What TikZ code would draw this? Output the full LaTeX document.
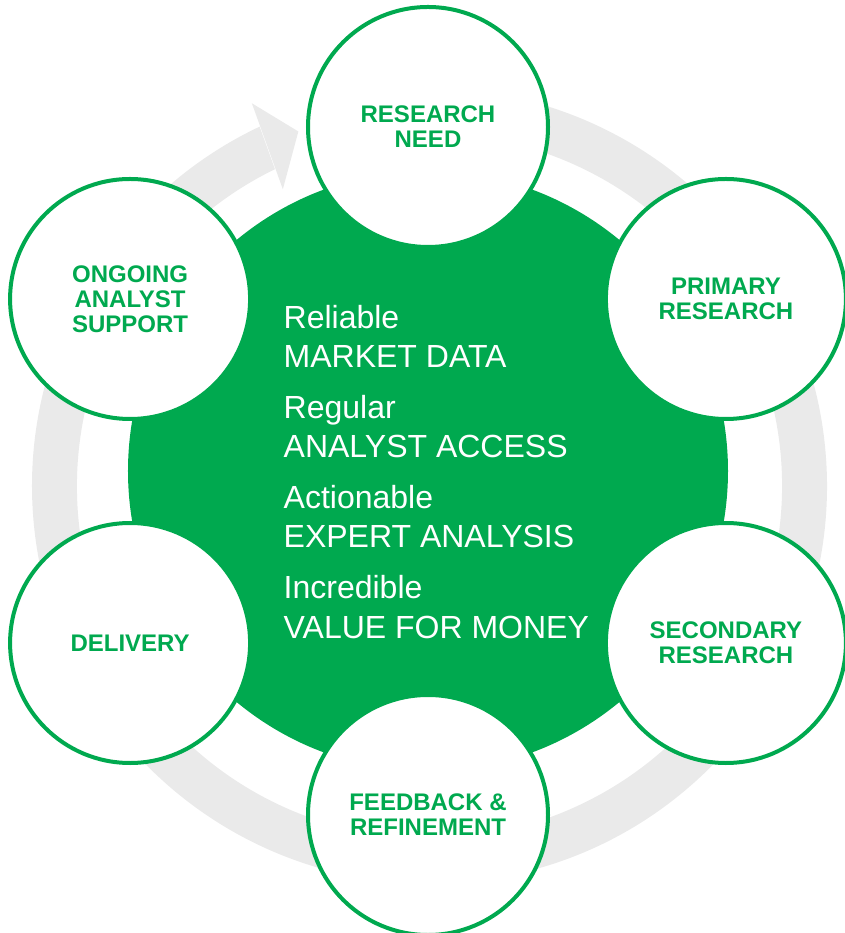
\documentclass[tikz,border=0pt]{standalone}
\usepackage{fontspec}
\setmainfont{Liberation Sans}
\definecolor{brandgreen}{HTML}{00A94F}
\definecolor{ringgray}{HTML}{EAEAEA}
\tikzset{
  stage/.style={circle, draw=brandgreen, line width=4, fill=white,
    minimum size=240, inner sep=0, align=center, text=brandgreen,
    font=\fontsize{24}{25}\selectfont\bfseries},
  lead/.style={anchor=base west, inner sep=0, text=white,
    font=\fontsize{32}{36}\selectfont}
}
\begin{document}
\begin{tikzpicture}[x=1pt, y=1pt]
  \useasboundingbox (-428,-462) rectangle (416,471);
  % circular arrow running clockwise behind the stages
  \begin{scope}[shift={(1.5,-15)}]
    \fill[ringgray] (95:397.5) arc[start angle=95, end angle=-244.7, radius=397.5]
      -- (-244.0:352.5) arc[start angle=-244.0, end angle=95, radius=352.5] -- cycle;
    \fill[ringgray] (114.9:422) -- (110.3:378) -- (116.3:331) -- cycle;
  \end{scope}
  % central disc
  \node[circle, fill=brandgreen, minimum size=600, inner sep=0] (hub) at (0,0) {};
  % central statements
  \node[lead] (t1) at (-144.5,142) {Reliable};
  \node[lead] (t2) at (-144.5,103) {MARKET DATA};
  \node[lead] (t3) at (-144.5,52) {Regular};
  \node[lead] (t4) at (-144.5,13) {ANALYST ACCESS};
  \node[lead] (t5) at (-144.5,-38) {Actionable};
  \node[lead] (t6) at (-144.5,-77) {EXPERT ANALYSIS};
  \node[lead] (t7) at (-144.5,-128) {Incredible};
  \node[lead] (t8) at (-144.5,-167) {VALUE FOR MONEY};
  % process stages
  \node[stage] (need) at (90:344) {RESEARCH\\NEED};
  \node[stage] (primary) at (30:344) {PRIMARY\\RESEARCH};
  \node[stage] (secondary) at (-30:344) {SECONDARY\\RESEARCH};
  \node[stage] (feedback) at (-90:344) {FEEDBACK \&\\REFINEMENT};
  \node[stage] (delivery) at (-150:344) {DELIVERY};
  \node[stage] (support) at (150:344) {ONGOING\\ANALYST\\SUPPORT};
\end{tikzpicture}
\end{document}
